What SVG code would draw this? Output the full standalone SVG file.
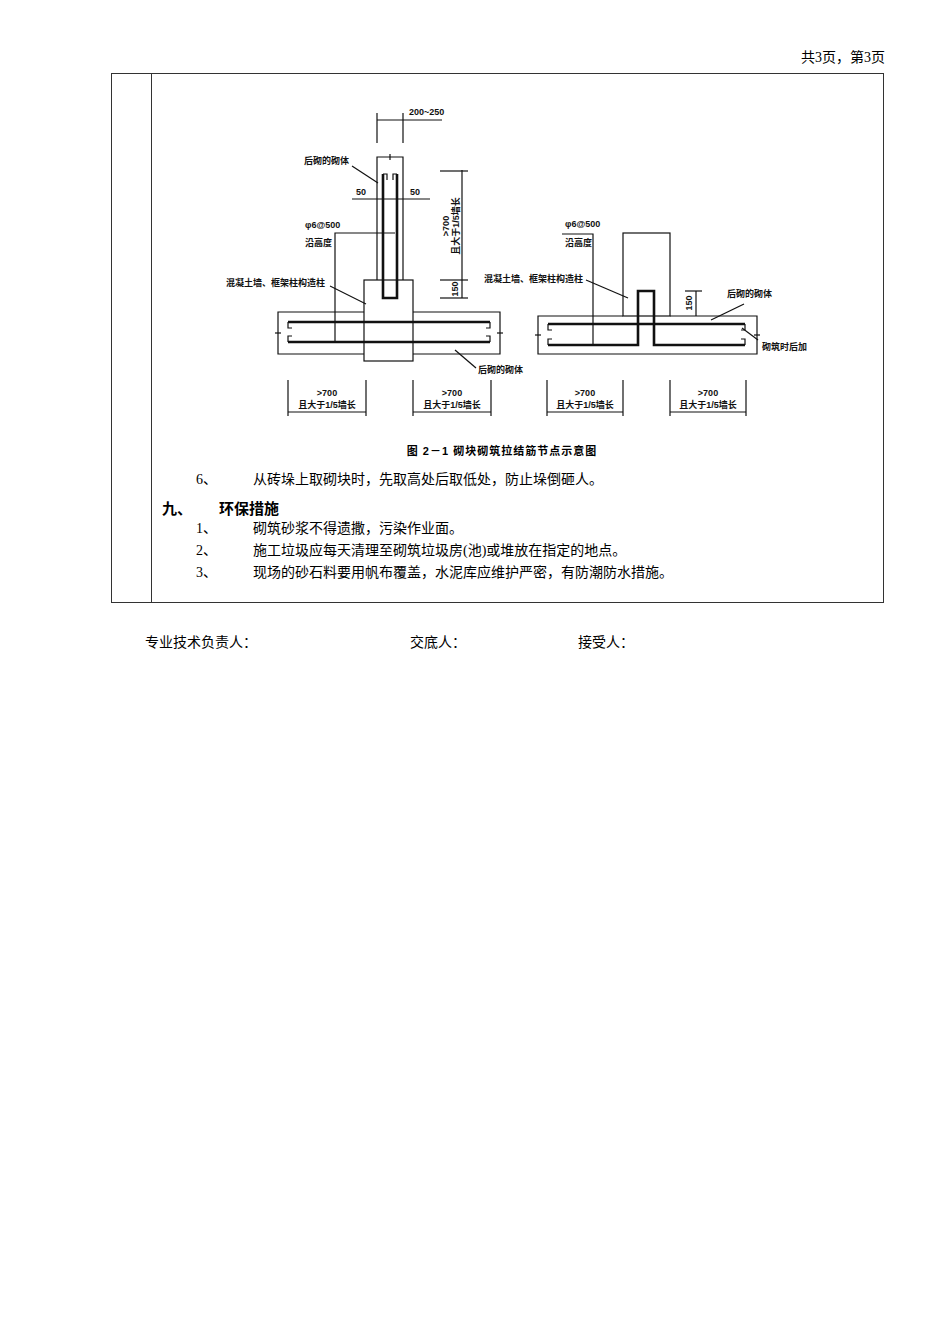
<svg xmlns="http://www.w3.org/2000/svg" width="950" height="1344" viewBox="0 0 950 1344">
<style>
.t{font-family:"Liberation Serif","Noto Sans CJK SC",serif;font-size:14px;fill:#000}
.h{font-family:"Liberation Sans","Noto Sans CJK SC",sans-serif;font-size:15px;font-weight:bold}
.s{font-family:"Liberation Sans","Noto Sans CJK SC",sans-serif;font-size:9px;font-weight:bold;fill:#111}
.cap{font-family:"Liberation Sans","Noto Sans CJK SC",sans-serif;font-size:11px;font-weight:bold;letter-spacing:1px}
.l{fill:none;stroke:#111;stroke-width:1.2}
.b{fill:none;stroke:#111;stroke-width:2.6}
</style>
<rect width="950" height="1344" fill="#fff"/>
<text class="t" x="885" y="62" text-anchor="end">共3页，第3页</text>
<rect x="111.5" y="73.5" width="772" height="529" fill="none" stroke="#333"/>
<line x1="151.5" y1="73.5" x2="151.5" y2="602.5" stroke="#333"/>

<g id="figure">
<line class="l" x1="377" y1="120" x2="442" y2="120"/>
<line class="l" x1="377" y1="113" x2="377" y2="143"/>
<line class="l" x1="403" y1="113" x2="403" y2="143"/>
<text class="s" x="409" y="115">200~250</text>
<path class="l" d="M377 280 V157 H403 V280"/>
<line class="l" x1="390" y1="154" x2="390" y2="160"/>
<path class="b" d="M383 174 V298 H397 V174"/>
<path class="l" d="M383 174 h4 v6 M397 174 h-4 v6"/>
<line class="l" x1="352" y1="199" x2="430" y2="199"/>
<text class="s" x="356" y="195">50</text>
<text class="s" x="410" y="195">50</text>
<text class="s" x="304" y="164">后砌的砌体</text>
<line class="l" x1="352" y1="166" x2="378" y2="183"/>
<text class="s" x="305" y="228">φ6@500</text>
<text class="s" x="305" y="246">沿高度</text>
<path class="l" d="M395 233 H335 V342"/>
<rect class="l" x="364" y="280" width="49" height="81"/>
<path class="l" d="M364 312 H278 V354 H364 M413 312 H500 V354 H413"/>
<line class="b" x1="288" y1="322" x2="490" y2="322"/>
<line class="b" x1="288" y1="342" x2="490" y2="342"/>
<path class="l" d="M288 322 v6 h4 M490 322 v6 h-4 M288 342 v-6 h4 M490 342 v-6 h-4"/>
<line class="l" x1="275" y1="333" x2="281" y2="333"/>
<line class="l" x1="497" y1="333" x2="503" y2="333"/>
<text class="s" x="226" y="286">混凝土墙、框架柱构造柱</text>
<line class="l" x1="330" y1="286" x2="366" y2="304"/>
<line class="l" x1="462" y1="170" x2="462" y2="298"/>
<line class="l" x1="440" y1="171" x2="468" y2="171"/>
<line class="l" x1="440" y1="280" x2="468" y2="280"/>
<line class="l" x1="440" y1="298" x2="468" y2="298"/>
<text class="s" transform="translate(449,226) rotate(-90)" text-anchor="middle">&gt;700</text>
<text class="s" transform="translate(459,226) rotate(-90)" text-anchor="middle">且大于1/5墙长</text>
<text class="s" transform="translate(458,289) rotate(-90)" text-anchor="middle">150</text>
<text class="s" x="478" y="373">后砌的砌体</text>
<line class="l" x1="455" y1="350" x2="476" y2="368"/>
<line class="l" x1="288" y1="412" x2="366" y2="412"/>
<line class="l" x1="288" y1="380" x2="288" y2="416"/>
<line class="l" x1="366" y1="380" x2="366" y2="416"/>
<text class="s" x="327" y="396" text-anchor="middle">&gt;700</text>
<text class="s" x="327" y="408" text-anchor="middle">且大于1/5墙长</text>
<line class="l" x1="413" y1="412" x2="491" y2="412"/>
<line class="l" x1="413" y1="380" x2="413" y2="416"/>
<line class="l" x1="491" y1="380" x2="491" y2="416"/>
<text class="s" x="452" y="396" text-anchor="middle">&gt;700</text>
<text class="s" x="452" y="408" text-anchor="middle">且大于1/5墙长</text>

<text class="s" x="565" y="227">φ6@500</text>
<text class="s" x="565" y="246">沿高度</text>
<path class="l" d="M562 234 H593 V345"/>
<rect class="l" x="623" y="233" width="47" height="83" fill="#fff"/>
<path class="l" d="M623 316 H538 V354 H757 V316 H670"/>
<line class="b" x1="548" y1="324" x2="745" y2="324"/>
<path class="b" d="M548 345 H638 V291 H654 V345 H745"/>
<path class="l" d="M548 324 v6 h4 M745 324 v6 h-4 M548 345 v-6 h4 M745 345 v-6 h-4"/>
<line class="l" x1="535" y1="335" x2="541" y2="335"/>
<line class="l" x1="754" y1="335" x2="760" y2="335"/>
<text class="s" x="484" y="282">混凝土墙、框架柱构造柱</text>
<line class="l" x1="586" y1="280" x2="628" y2="298"/>
<line class="l" x1="696" y1="291" x2="696" y2="316"/>
<line class="l" x1="685" y1="291" x2="702" y2="291"/>
<text class="s" transform="translate(692,303) rotate(-90)" text-anchor="middle">150</text>
<text class="s" x="727" y="297">后砌的砌体</text>
<line class="l" x1="744" y1="304" x2="711" y2="320"/>
<text class="s" x="762" y="350">砌筑时后加</text>
<line class="l" x1="742" y1="328" x2="758" y2="340"/>
<line class="l" x1="547" y1="412" x2="623" y2="412"/>
<line class="l" x1="547" y1="380" x2="547" y2="416"/>
<line class="l" x1="623" y1="380" x2="623" y2="416"/>
<text class="s" x="585" y="396" text-anchor="middle">&gt;700</text>
<text class="s" x="585" y="408" text-anchor="middle">且大于1/5墙长</text>
<line class="l" x1="670" y1="412" x2="746" y2="412"/>
<line class="l" x1="670" y1="380" x2="670" y2="416"/>
<line class="l" x1="746" y1="380" x2="746" y2="416"/>
<text class="s" x="708" y="396" text-anchor="middle">&gt;700</text>
<text class="s" x="708" y="408" text-anchor="middle">且大于1/5墙长</text>
<text class="cap" x="502" y="455" text-anchor="middle">图 2－1    砌块砌筑拉结筋节点示意图</text>
</g>

<g id="text">
<text class="t" x="196" y="484">6、</text>
<text class="t" x="253" y="484">从砖垛上取砌块时，先取高处后取低处，防止垛倒砸人。</text>
<text class="h" x="162" y="514">九、</text>
<text class="h" x="219" y="514">环保措施</text>
<text class="t" x="196" y="533">1、</text>
<text class="t" x="253" y="533">砌筑砂浆不得遗撒，污染作业面。</text>
<text class="t" x="196" y="555">2、</text>
<text class="t" x="253" y="555">施工垃圾应每天清理至砌筑垃圾房(池)或堆放在指定的地点。</text>
<text class="t" x="196" y="577">3、</text>
<text class="t" x="253" y="577">现场的砂石料要用帆布覆盖，水泥库应维护严密，有防潮防水措施。</text>
<text class="t" x="145" y="647">专业技术负责人：</text>
<text class="t" x="410" y="647">交底人：</text>
<text class="t" x="578" y="647">接受人：</text>
</g>
</svg>
